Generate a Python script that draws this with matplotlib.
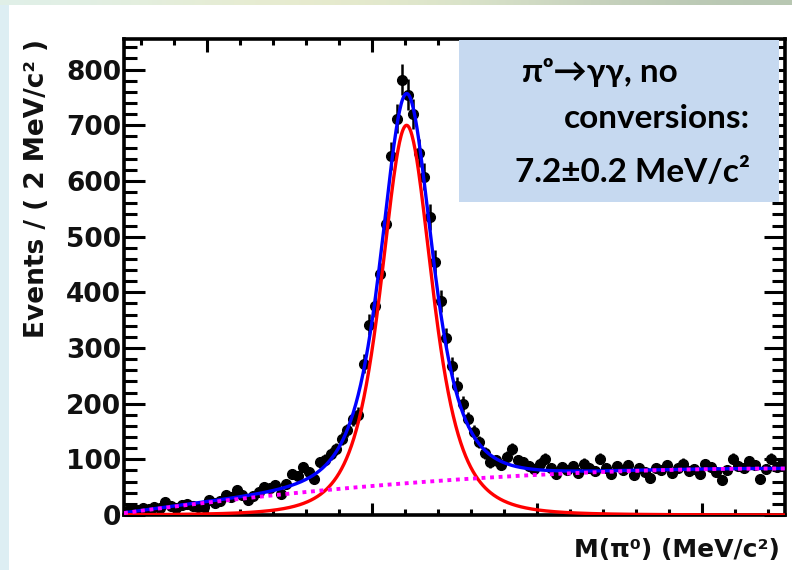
import numpy as np
import matplotlib
matplotlib.use("Agg")
import matplotlib.pyplot as plt
from matplotlib.patches import Rectangle
from matplotlib.ticker import MultipleLocator

# invariant mass histogram, 2 MeV bins
bin_centers = np.arange(31, 270, 2)
events = [8, 11, 9, 12, 10, 14, 12, 23, 16, 13,
          18, 19, 16, 14, 15, 27, 22, 25, 36, 33,
          45, 36, 27, 34, 41, 50, 48, 54, 38, 56,
          74, 70, 86, 77, 65, 95, 99, 110, 119, 137,
          152, 173, 180, 272, 342, 375, 432, 523, 645, 712,
          782, 755, 720, 650, 608, 535, 455, 385, 318, 268,
          232, 200, 172, 149, 131, 112, 95, 98, 90, 105,
          119, 98, 95, 88, 83, 92, 101, 85, 74, 86,
          80, 88, 76, 92, 84, 79, 101, 85, 74, 88,
          80, 90, 72, 84, 78, 66, 85, 81, 89, 76,
          84, 92, 79, 83, 74, 91, 86, 78, 63, 80,
          101, 88, 84, 97, 90, 65, 82, 101, 86, 92]

# fit results
sig_amp = 700.0
sig_mean = 132.6
sig_width = 17.1
bkg_coef = [3.5, 0.664, -0.001378]
x_lo, x_hi = 30, 270

events = np.array(events, dtype=float)
xs = np.linspace(x_lo, x_hi, 800)
signal = sig_amp / (1 + ((xs - sig_mean) / sig_width) ** 2) ** 2
t = xs - x_lo
background = bkg_coef[0] + bkg_coef[1] * t + bkg_coef[2] * t ** 2
total = signal + background

fig = plt.figure(figsize=(7.92, 5.70), dpi=100)
fig.patch.set_facecolor("white")

# slide background peeking out at the edges
strip = fig.add_axes([0, 1 - 5 / 570, 1, 5 / 570])
grad = np.array([[[0.88, 0.94, 0.91], [0.90, 0.93, 0.84], [0.91, 0.92, 0.80],
                  [0.86, 0.90, 0.80], [0.78, 0.82, 0.74], [0.72, 0.78, 0.70]]])
strip.imshow(grad, aspect="auto", interpolation="bicubic")
strip.axis("off")
fig.patches.append(Rectangle((0, 0), 9 / 792, 1 - 5 / 570, transform=fig.transFigure,
                             facecolor="#ddeef3", edgecolor="none", zorder=0))

ax = fig.add_axes([124 / 792, 55 / 570, 661 / 792, 476 / 570])
ax.errorbar(bin_centers, events, yerr=np.sqrt(events), fmt="o", color="black",
            markersize=7, elinewidth=1.8, capsize=0, zorder=3)
ax.plot(xs, total, color="#0000ff", lw=2.4, zorder=4)
ax.plot(xs, signal, color="#ff0000", lw=2.4, zorder=5)
ax.plot(xs, background, color="#ff00ff", lw=2.8, linestyle=(0, (1, 1.2)), zorder=6)

ax.set_xlim(x_lo, x_hi)
ax.set_ylim(0, 855)
ax.xaxis.set_major_locator(MultipleLocator(60))
ax.xaxis.set_minor_locator(MultipleLocator(12))
ax.yaxis.set_major_locator(MultipleLocator(100))
ax.yaxis.set_minor_locator(MultipleLocator(20))
ax.tick_params(axis="both", which="both", direction="in", top=True, right=True,
               width=2.2, color="black")
ax.tick_params(axis="x", which="major", length=9, labelbottom=False)
ax.tick_params(axis="x", which="minor", length=4.5)
ax.tick_params(axis="y", which="major", length=15, labelsize=19, pad=2)
ax.tick_params(axis="y", which="minor", length=9.5)
for lbl in ax.get_yticklabels():
    lbl.set_family("DejaVu Sans")
    lbl.set_fontweight("bold")
    lbl.set_color("#111111")
for s in ax.spines.values():
    s.set_linewidth(2.6)

ax.set_ylabel("Events / ( 2 MeV/c² )", fontsize=19, family="DejaVu Sans",
              fontweight="bold", color="#111111", loc="top")
ax.yaxis.set_label_coords(-0.112, 1.0)
ax.set_xlabel("M(π⁰) (MeV/c²)", fontsize=18, family="DejaVu Sans",
              fontweight="bold", color="#111111", loc="right")
ax.xaxis.set_label_coords(0.992, -0.048)

# result box
fig.patches.append(Rectangle((459 / 792, 1 - 202 / 570), 320 / 792, 162 / 570,
                             transform=fig.transFigure, facecolor="#c6d9f0",
                             edgecolor="none", zorder=10))
box_font = dict(family=["Lato", "DejaVu Sans"], fontweight="bold", fontsize=24,
                color="black", zorder=11)
fig.text(600 / 792, 1 - 82 / 570, "π\u1d52→γγ, no", ha="center", va="baseline", **box_font)
fig.text(750 / 792, 1 - 128 / 570, "conversions:", ha="right", va="baseline", **box_font)
fig.text(750 / 792, 1 - 182 / 570, "7.2±0.2 MeV/c²", ha="right", va="baseline", **box_font)

fig.savefig("out.png", dpi=100)
